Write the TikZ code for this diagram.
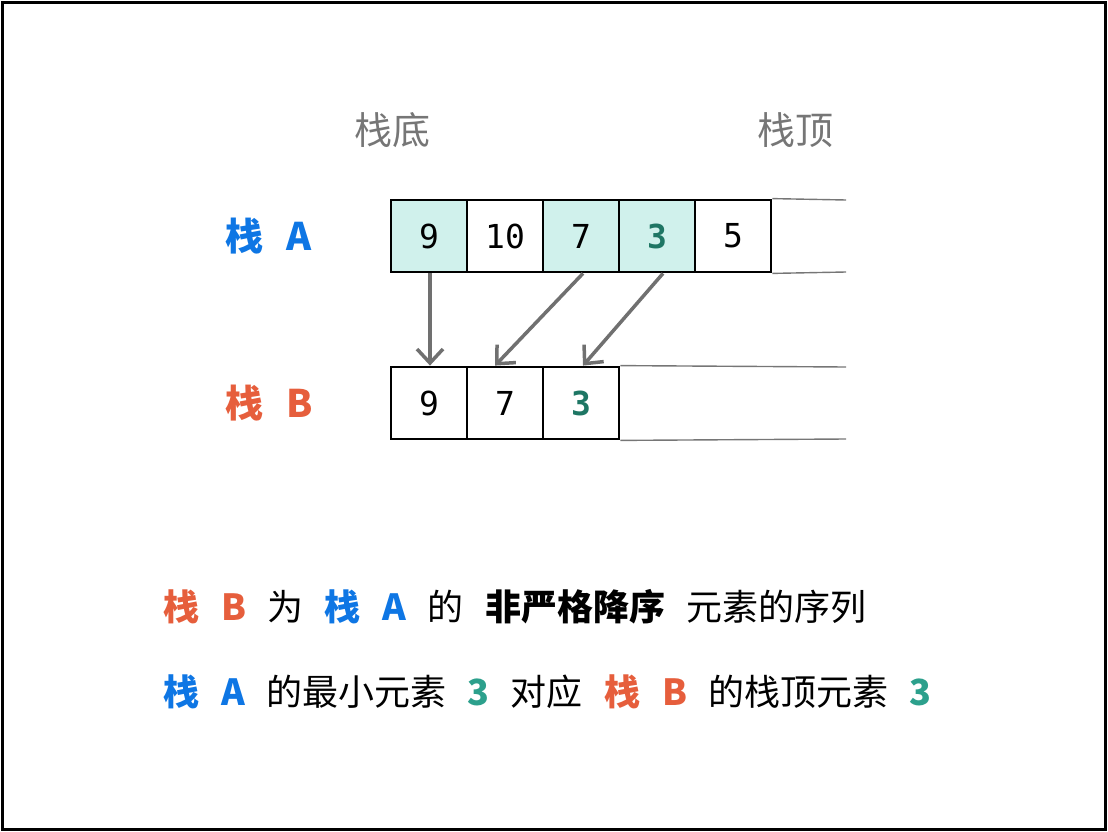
\documentclass[tikz,border=0pt]{standalone}
\usepackage{fontspec}
\usepackage{xcolor}
\usepackage{tikz}
\usetikzlibrary{arrows.meta}
\newfontfamily\cjk[WordSpace=2.65]{Noto Sans CJK SC}
\setmonofont{DejaVu Sans Mono}
\definecolor{stackblue}{RGB}{14,118,228}
\definecolor{stackred}{RGB}{230,94,60}
\definecolor{minteal}{RGB}{44,160,140}
\definecolor{darkteal}{RGB}{30,118,100}
\definecolor{cellfill}{RGB}{208,241,236}
\definecolor{softgray}{RGB}{118,118,118}
\definecolor{arrowgray}{RGB}{112,112,112}
\tikzset{
  cell/.style={draw, line width=2.8pt, minimum width=76pt, minimum height=72pt,
    inner sep=0pt, font=\ttfamily\fontsize{33}{33}\selectfont},
  marked/.style={cell, fill=cellfill},
  cjktext/.style={font=\cjk\fontsize{36}{36}\selectfont, inner sep=0pt},
  bigcjk/.style={font=\cjk\fontsize{38}{38}\selectfont, inner sep=0pt},
  rail/.style={softgray, line width=1.4pt},
  moveto/.style={arrowgray, line width=3.5pt, -{Straight Barb[length=14pt, width=26pt, line width=3.5pt]}}
}
\begin{document}
\begin{tikzpicture}[x=1pt, y=-1pt]
    \useasboundingbox (0,0) rectangle (1108,832);
    \draw[line width=3pt] (2.5,2.5) rectangle (1105.5,829.5);
    % top labels
    \node[bigcjk, softgray] (bottom) at (392,130) {栈底};
    \node[bigcjk, softgray] (top) at (795,130) {栈顶};
    \node[bigcjk, anchor=west, stackblue] (labelA) at (225,236) {\bfseries 栈 A};
    \node[bigcjk, anchor=west, stackred] (labelB) at (225,403) {\bfseries 栈 B};
    % stack A
    \node[marked] (a1) at (429,236) {9};
    \node[cell] (a2) at (505,236) {10};
    \node[marked] (a3) at (581,236) {7};
    \node[marked] (a4) at (657,236) {\textbf{\textcolor{darkteal}{3}}};
    \node[cell] (a5) at (733,236) {5};
    \coordinate (aup) at (846,200);
    \coordinate (adown) at (846,272);
    \draw[rail] (a5.north east) -- (aup);
    \draw[rail] (a5.south east) -- (adown);
    % stack B
    \node[cell] (b1) at (429,403) {9};
    \node[cell] (b2) at (505,403) {7};
    \node[cell] (b3) at (581,403) {\textbf{\textcolor{darkteal}{3}}};
    \coordinate (bup) at (846,367);
    \coordinate (bdown) at (846,439);
    \draw[rail] (b3.north east) -- (bup);
    \draw[rail] (b3.south east) -- (bdown);
    % arrows
    \draw[moveto] ([xshift=1pt]a1.south) -- ([xshift=1pt]b1.north);
    \draw[moveto] ([xshift=2pt]a3.south) -- ([xshift=-10pt]b2.north);
    \draw[moveto] ([xshift=6pt]a4.south) -- ([xshift=2pt]b3.north);
    % summary
    \node[cjktext, anchor=west] (line1) at (163,607)
      {\textcolor{stackred}{\bfseries 栈 B} 为 \textcolor{stackblue}{\bfseries 栈 A} 的 {\bfseries 非严格降序} 元素的序列};
    \node[cjktext, anchor=west] (line2) at (163,692)
      {\textcolor{stackblue}{\bfseries 栈 A} 的最小元素 \textcolor{minteal}{\bfseries 3} 对应 \textcolor{stackred}{\bfseries 栈 B} 的栈顶元素 \textcolor{minteal}{\bfseries 3}};
\end{tikzpicture}
\end{document}
